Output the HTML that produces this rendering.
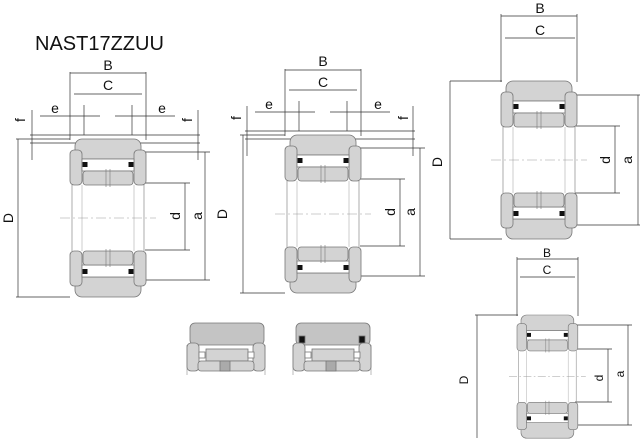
<!DOCTYPE html>
<html><head><meta charset="utf-8"><style>
body{margin:0;background:#fff;width:640px;height:440px;overflow:hidden}
svg{display:block}
text{font-family:"Liberation Sans",sans-serif;fill:#111}
</style></head><body>
<svg width="640" height="440" viewBox="0 0 640 440">
<defs>
<g id="half">
  <rect x="5" y="0" width="66" height="20" rx="7" fill="#d3d3d3" stroke="#777" stroke-width="0.8"/>
  <rect x="0" y="11" width="12" height="35" rx="4" fill="#d3d3d3" stroke="#777" stroke-width="0.8"/>
  <rect x="64" y="11" width="12" height="35" rx="4" fill="#d3d3d3" stroke="#777" stroke-width="0.8"/>
  <rect x="12" y="20" width="52" height="12" fill="#fff" stroke="#777" stroke-width="0.8"/>
  <rect x="12.5" y="23" width="5" height="5" fill="#111"/>
  <rect x="58.5" y="23" width="5" height="5" fill="#111"/>
  <rect x="13" y="32" width="50" height="14" rx="3" fill="#d3d3d3" stroke="#777" stroke-width="0.8"/>
  <line x1="36" y1="30" x2="36" y2="48" stroke="#777" stroke-width="0.6"/>
  <line x1="40" y1="30" x2="40" y2="48" stroke="#777" stroke-width="0.6"/>
</g>
<g id="brg">
  <use href="#half"/>
  <use href="#half" transform="translate(0,158) scale(1,-1)"/>
  <line x1="2" y1="46" x2="2" y2="112" stroke="#888" stroke-width="0.7"/>
  <line x1="74" y1="46" x2="74" y2="112" stroke="#888" stroke-width="0.7"/>
  <line x1="12" y1="46" x2="12" y2="112" stroke="#aaa" stroke-width="0.6"/>
  <line x1="64" y1="46" x2="64" y2="112" stroke="#aaa" stroke-width="0.6"/>
  <line x1="-10" y1="79" x2="86" y2="79" stroke="#999" stroke-width="0.6" stroke-dasharray="10,3,2,3"/>
</g>
</defs>
<g stroke="#333" stroke-width="0.7" fill="none">
<line x1="70" y1="73" x2="146" y2="73"/><line x1="74" y1="94" x2="142" y2="94"/>
<line x1="70" y1="72" x2="70" y2="140"/><line x1="146" y1="72" x2="146" y2="140"/>
<line x1="84" y1="105" x2="84" y2="135"/><line x1="132" y1="105" x2="132" y2="135"/>
<line x1="40" y1="116" x2="100" y2="116"/><line x1="115" y1="116" x2="175" y2="116"/>
<line x1="32" y1="110" x2="32" y2="160"/><line x1="198" y1="110" x2="198" y2="160"/>
<line x1="16" y1="139" x2="70" y2="139"/><line x1="30" y1="135" x2="200" y2="135"/><line x1="30" y1="143" x2="200" y2="143"/>
<line x1="18" y1="139" x2="18" y2="297"/><line x1="16" y1="297" x2="70" y2="297"/>
<line x1="145" y1="183" x2="190" y2="183"/><line x1="145" y1="250" x2="190" y2="250"/><line x1="185" y1="183" x2="185" y2="250"/>
<line x1="145" y1="152" x2="210" y2="152"/><line x1="145" y1="280" x2="210" y2="280"/><line x1="205" y1="152" x2="205" y2="280"/>
<line x1="285" y1="70" x2="361" y2="70"/><line x1="289" y1="90" x2="357" y2="90"/>
<line x1="285" y1="69" x2="285" y2="136"/><line x1="361" y1="69" x2="361" y2="136"/>
<line x1="299" y1="101" x2="299" y2="131"/><line x1="347" y1="101" x2="347" y2="131"/>
<line x1="255" y1="112" x2="315" y2="112"/><line x1="330" y1="112" x2="390" y2="112"/>
<line x1="247" y1="106" x2="247" y2="156"/><line x1="413" y1="106" x2="413" y2="156"/>
<line x1="240" y1="135" x2="285" y2="135"/><line x1="245" y1="131" x2="415" y2="131"/><line x1="245" y1="139" x2="415" y2="139"/>
<line x1="243" y1="135" x2="243" y2="293"/><line x1="240" y1="293" x2="285" y2="293"/>
<line x1="360" y1="179" x2="405" y2="179"/><line x1="360" y1="246" x2="405" y2="246"/><line x1="400" y1="179" x2="400" y2="246"/>
<line x1="360" y1="148" x2="425" y2="148"/><line x1="360" y1="276" x2="425" y2="276"/><line x1="420" y1="148" x2="420" y2="276"/>
<line x1="501" y1="16" x2="577" y2="16"/><line x1="505" y1="38" x2="575" y2="38"/>
<line x1="501" y1="14" x2="501" y2="82"/><line x1="577" y1="14" x2="577" y2="82"/>
<line x1="450" y1="81" x2="502" y2="81"/><line x1="450" y1="81" x2="450" y2="239"/><line x1="450" y1="239" x2="502" y2="239"/>
<line x1="575" y1="126" x2="620" y2="126"/><line x1="575" y1="193" x2="620" y2="193"/><line x1="615" y1="126" x2="615" y2="193"/>
<line x1="577" y1="95" x2="640" y2="95"/><line x1="577" y1="225" x2="640" y2="225"/><line x1="638" y1="95" x2="638" y2="225"/>
<line x1="517" y1="259" x2="578" y2="259"/><line x1="520" y1="277" x2="575" y2="277"/>
<line x1="517" y1="257" x2="517" y2="316"/><line x1="578" y1="257" x2="578" y2="316"/>
<line x1="475" y1="315" x2="518" y2="315"/><line x1="477" y1="315" x2="477" y2="438"/>
<line x1="575" y1="349" x2="612" y2="349"/><line x1="575" y1="402" x2="612" y2="402"/><line x1="608" y1="349" x2="608" y2="402"/>
<line x1="577" y1="325" x2="632" y2="325"/><line x1="577" y1="425" x2="632" y2="425"/><line x1="628" y1="325" x2="628" y2="425"/>
</g>
<use href="#brg" transform="translate(70,139)"/>
<use href="#brg" transform="translate(285,135)"/>
<use href="#brg" transform="translate(501,81)"/>
<use href="#brg" transform="translate(517,315) scale(0.8,0.78)"/>
<g stroke="#777" stroke-width="0.8">
<line x1="187" y1="345" x2="187" y2="375" stroke="#aaa"/><line x1="265" y1="345" x2="265" y2="375" stroke="#aaa"/>
<line x1="293" y1="345" x2="293" y2="375" stroke="#aaa"/><line x1="371" y1="345" x2="371" y2="375" stroke="#aaa"/>
<rect x="190" y="323" width="74" height="22" rx="5" fill="#c4c4c4"/>
<rect x="187" y="343" width="12" height="28" rx="4" fill="#d3d3d3"/><rect x="253" y="343" width="12" height="28" rx="4" fill="#d3d3d3"/>
<rect x="206" y="349" width="42" height="12" fill="#d3d3d3"/>
<rect x="199" y="352" width="6" height="6" fill="#fff"/><rect x="248" y="352" width="6" height="6" fill="#fff"/>
<rect x="198" y="361" width="56" height="10" rx="3" fill="#d3d3d3"/><rect x="220" y="361" width="10" height="10" fill="#aaa"/>
<rect x="296" y="323" width="74" height="22" rx="5" fill="#c4c4c4"/>
<rect x="299" y="336" width="6" height="7" fill="#111"/><rect x="359" y="336" width="6" height="7" fill="#111"/>
<rect x="293" y="343" width="12" height="28" rx="4" fill="#d3d3d3"/><rect x="359" y="343" width="12" height="28" rx="4" fill="#d3d3d3"/>
<rect x="312" y="349" width="42" height="12" fill="#d3d3d3"/>
<rect x="305" y="352" width="6" height="6" fill="#fff"/><rect x="354" y="352" width="6" height="6" fill="#fff"/>
<rect x="304" y="361" width="56" height="10" rx="3" fill="#d3d3d3"/><rect x="326" y="361" width="10" height="10" fill="#aaa"/>
</g>
<text x="35" y="50" font-size="20">NAST17ZZUU</text>
<g font-size="14" text-anchor="middle">
<text x="108" y="70">B</text><text x="108" y="90">C</text>
<text x="55" y="113">e</text><text x="162" y="113">e</text>
<text x="323" y="66">B</text><text x="323" y="87">C</text>
<text x="269" y="109">e</text><text x="378" y="109">e</text>
<text x="540" y="13">B</text><text x="540" y="35">C</text>
<text x="547" y="257" font-size="12">B</text><text x="547" y="274" font-size="12">C</text>
<text transform="translate(25,120) rotate(-90)">f</text><text transform="translate(192,120) rotate(-90)">f</text>
<text transform="translate(241,118) rotate(-90)">f</text><text transform="translate(408,118) rotate(-90)">f</text>
<text transform="translate(13,218) rotate(-90)">D</text>
<text transform="translate(180,216) rotate(-90)">d</text><text transform="translate(202,216) rotate(-90)">a</text>
<text transform="translate(227,214) rotate(-90)">D</text>
<text transform="translate(395,212) rotate(-90)">d</text><text transform="translate(415,212) rotate(-90)">a</text>
<text transform="translate(442,162) rotate(-90)">D</text>
<text transform="translate(610,160) rotate(-90)">d</text><text transform="translate(632,160) rotate(-90)">a</text>
<text transform="translate(468,380) rotate(-90)" font-size="12">D</text>
<text transform="translate(603,378) rotate(-90)" font-size="12">d</text><text transform="translate(624,374) rotate(-90)" font-size="12">a</text>
</g>
</svg>
</body></html>
